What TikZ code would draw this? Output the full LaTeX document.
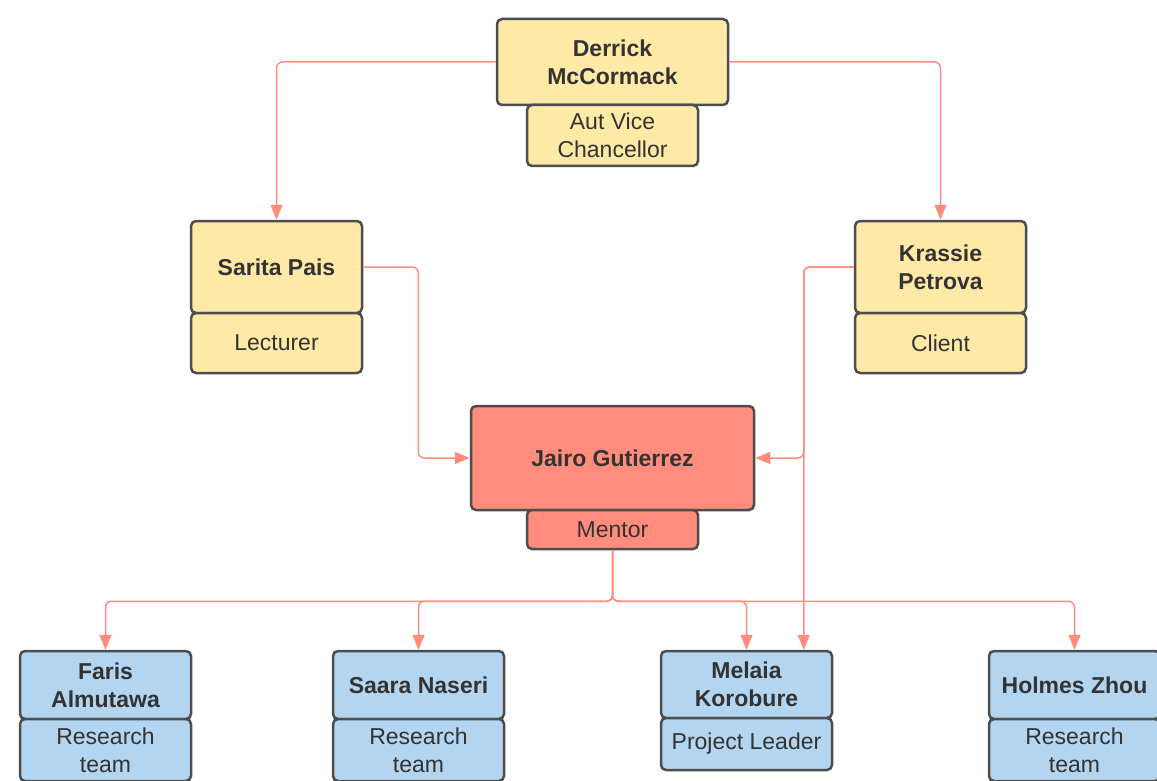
\documentclass[tikz,border=0pt]{standalone}
\usepackage{fontspec}
\setmainfont{Liberation Sans}
\usetikzlibrary{positioning,arrows.meta,calc}
\definecolor{lightyellow}{HTML}{FFE9A6}
\definecolor{salmon}{HTML}{FF8C7D}
\definecolor{lightblue}{HTML}{B3D5F0}
\definecolor{edgegray}{HTML}{4D4D4D}
\definecolor{textgray}{HTML}{333333}

\begin{document}
\begin{tikzpicture}[x=1pt,y=-1pt,
  rolebox/.style={draw=edgegray,line width=2.5pt,rounded corners=5pt,align=center,text=textgray,
    inner sep=0pt,minimum width=171pt,font=\fontsize{23}{28}\selectfont},
  namebox/.style={rolebox,font=\fontsize{23}{28}\selectfont\bfseries},
  link/.style={draw=salmon,line width=1.5pt,rounded corners=6pt,-{Triangle[length=15pt,width=12pt]}}]

\useasboundingbox (0,0) rectangle (1157,781);

% top
\node[namebox,fill=lightyellow,minimum width=231pt,minimum height=86pt] (der) at (612.5,62) {Derrick\\McCormack};
\node[rolebox,fill=lightyellow,minimum height=61pt,below=-2.5pt of der] (derrole) {Aut Vice\\Chancellor};

% second row
\node[namebox,fill=lightyellow,minimum height=92pt] (sar) at (276.5,267) {Sarita Pais};
\node[rolebox,fill=lightyellow,minimum height=60pt,below=-2.5pt of sar] (sarrole) {Lecturer};
\node[namebox,fill=lightyellow,minimum height=92pt] (kra) at (940.5,267) {Krassie\\Petrova};
\node[rolebox,fill=lightyellow,minimum height=60pt,below=-2.5pt of kra] (krarole) {Client};

% mentor
\node[namebox,fill=salmon,minimum width=283pt,minimum height=104pt] (jai) at (612.5,458) {Jairo Gutierrez};
\node[rolebox,fill=salmon,minimum height=39pt,below=-2.5pt of jai] (men) {Mentor};

% team
\node[namebox,fill=lightblue,minimum height=68pt] (far) at (105.5,685) {Faris\\Almutawa};
\node[rolebox,fill=lightblue,minimum height=62pt,below=-2.5pt of far] (farrole) {Research\\team};
\node[namebox,fill=lightblue,minimum height=68pt] (saa) at (418.5,685) {Saara Naseri};
\node[rolebox,fill=lightblue,minimum height=62pt,below=-2.5pt of saa] (saarole) {Research\\team};
\node[namebox,fill=lightblue,minimum height=67pt] (mel) at (746.5,684.5) {Melaia\\Korobure};
\node[rolebox,fill=lightblue,minimum height=52pt,below=-2.5pt of mel] (melrole) {Project Leader};
\node[namebox,fill=lightblue,minimum height=68pt] (hol) at (1074.5,685) {Holmes Zhou};
\node[rolebox,fill=lightblue,minimum height=62pt,below=-2.5pt of hol] (holrole) {Research\\team};

% connectors
\coordinate (kbend) at ([xshift=-50pt]kra.west);
\coordinate (split) at ($(men.south)+(0,51)$);
\draw[link] (der.west) -| (sar.north);
\draw[link] (der.east) -| (kra.north);
\draw[link] (sar.east) -- ++(55,0) |- (jai.west);
\draw[link] (kra.west) -- (kbend) |- (jai.east);
\draw[link] (kra.west) -- (kbend) -- (kbend |- mel.north);
\foreach \kid in {far,saa,mel,hol}
  \draw[link] (men.south) -- (split) -| (\kid.north);
\end{tikzpicture}
\end{document}
